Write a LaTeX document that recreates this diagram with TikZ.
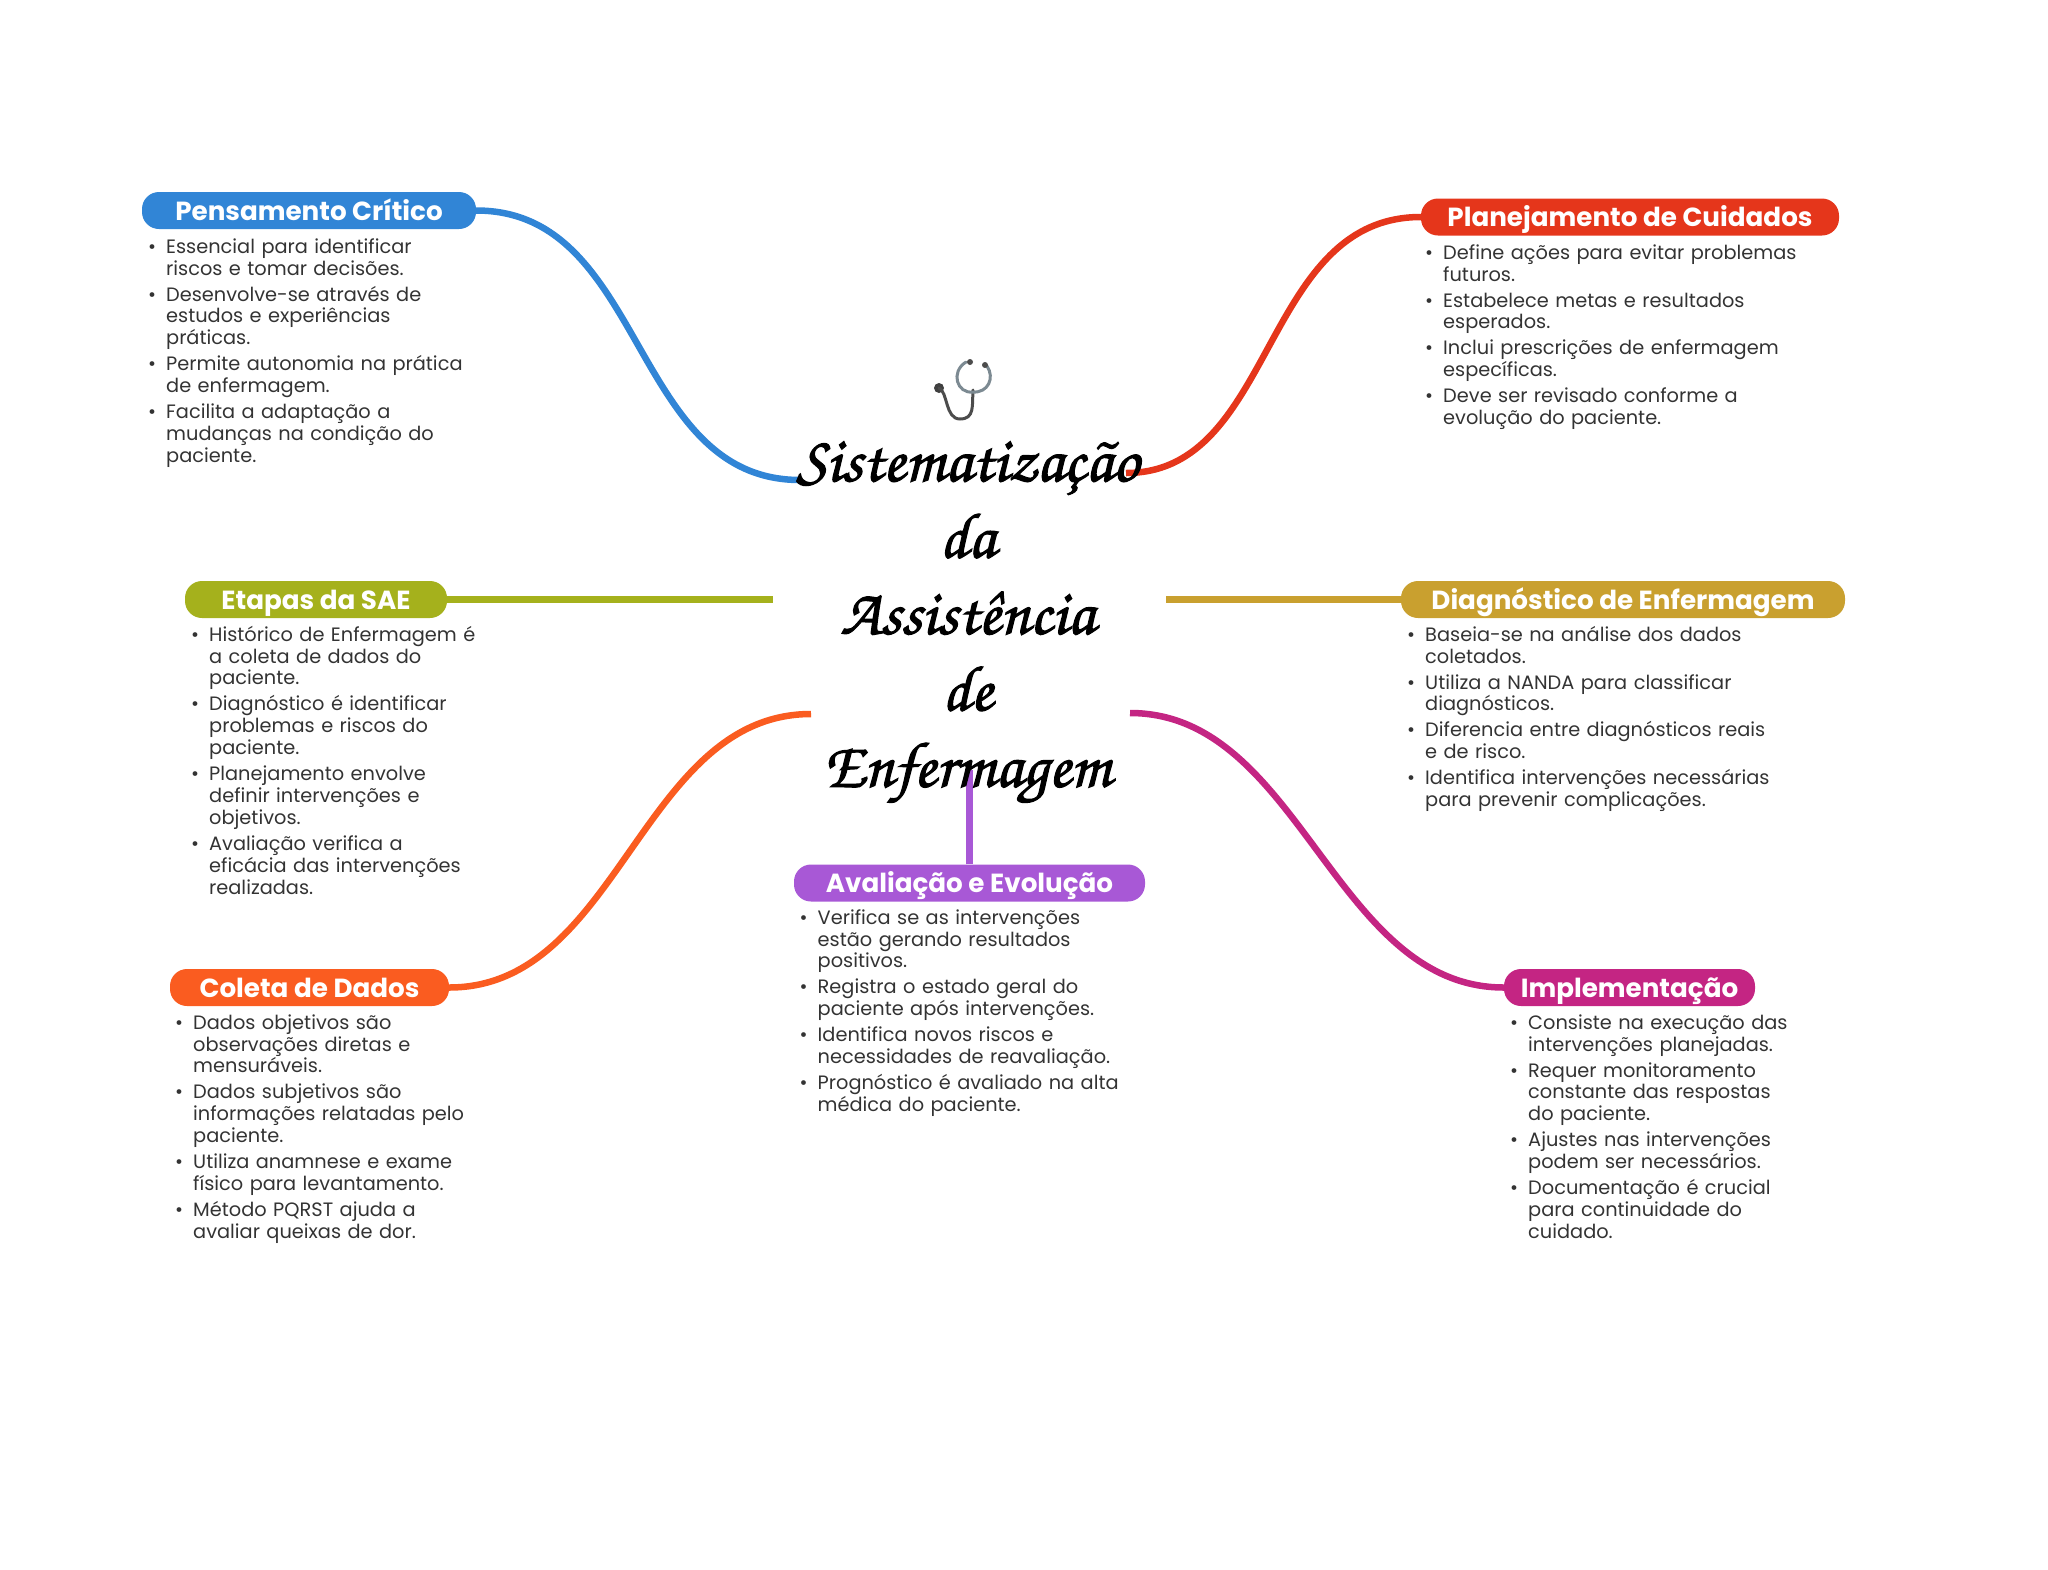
\documentclass[tikz,border=0pt]{standalone}
\usepackage{fontspec}
\usepackage[T1,TU]{fontenc}
\setmainfont{Poppins}
\usepackage{tikz}
\usepackage{xcolor}
\definecolor{critico}{HTML}{3185D6}
\definecolor{cuidados}{HTML}{E5361B}
\definecolor{etapas}{HTML}{A5B11C}
\definecolor{diagnostico}{HTML}{C9A02F}
\definecolor{coleta}{HTML}{FA5C20}
\definecolor{evolucao}{HTML}{A858D6}
\definecolor{implementacao}{HTML}{C42583}
\definecolor{bodytext}{HTML}{333333}
\newenvironment{topics}{\begin{list}{\textbullet}{%
    \setlength{\topsep}{0pt}\setlength{\partopsep}{0pt}\setlength{\parsep}{0pt}%
    \setlength{\itemsep}{4.1pt}\setlength{\leftmargin}{0pt}\setlength{\labelsep}{10pt}%
    \setlength{\labelwidth}{8pt}}}{\end{list}}
\tikzset{
    branch-pill/.style = {fill=#1, text=white, rectangle, rounded corners=17pt, minimum height=37pt, inner sep=0pt, text height=22pt, text depth=3pt, font=\fontsize{26.2}{30}\selectfont\bfseries},
    topic-list/.style = {anchor=north west, inner sep=0pt, text width=420pt, text=bodytext, align=left, font=\fontsize{19.35}{21.9}\selectfont},
    branch-line/.style = {draw=#1, line width=6.5pt},
    title-text/.style = {inner sep=0pt, align=center, text=black, font=\fontencoding{T1}\fontfamily{pzc}\fontseries{mb}\fontshape{it}\fontsize{64.5}{76.4}\selectfont},
}

\begin{document}
\begin{tikzpicture}[x=1pt, y=-1pt]
\useasboundingbox (0,0) rectangle (2048,1569);

% branches
\node[branch-pill=critico, minimum width=334pt] (critico) at (309,210.5) {Pensamento Crítico};
\node[branch-pill=cuidados, minimum width=418pt] (cuidados) at (1630,217) {Planejamento de Cuidados};
\node[branch-pill=etapas, minimum width=262pt] (etapas) at (316,599.5) {Etapas da SAE};
\node[branch-pill=diagnostico, minimum width=444pt] (diagnostico) at (1623,599.5) {Diagnóstico de Enfermagem};
\node[branch-pill=coleta, minimum width=279pt] (coleta) at (309.5,987.5) {Coleta de Dados};
\node[branch-pill=evolucao, minimum width=351pt] (evolucao) at (969.5,883) {Avaliação e Evolução};
\node[branch-pill=implementacao, minimum width=251pt] (implementacao) at (1629.5,987.5) {Implementação};

% free ends at the centre
\coordinate (critico-end) at (800,480);
\coordinate (cuidados-end) at (1126,473);
\coordinate (etapas-end) at (773,599.5);
\coordinate (diagnostico-end) at (1166,599.5);
\coordinate (coleta-end) at (811,714);
\coordinate (evolucao-end) at (969.5,770);
\coordinate (implementacao-end) at (1130,713);

\draw[branch-line=critico] (critico.east) .. controls +(170,0) and +(-170,0) .. (critico-end);
\draw[branch-line=cuidados] (cuidados.west) .. controls +(-160,0) and +(150,0) .. (cuidados-end);
\draw[branch-line=etapas] (etapas.east) -- (etapas-end);
\draw[branch-line=diagnostico] (diagnostico.west) -- (diagnostico-end);
\draw[branch-line=coleta] (coleta.east) .. controls +(170,0) and +(-170,0) .. (coleta-end);
\draw[branch-line=evolucao] (evolucao.north) -- (evolucao-end);
\draw[branch-line=implementacao] (implementacao.west) .. controls +(-170,0) and +(170,0) .. (implementacao-end);

% stethoscope
\fill[black!75] (939,388) circle (5pt);
\draw[black!70, line width=3pt, line cap=round] (939,388) .. controls (948,392) and (945,419) .. (960,419) .. controls (975,419) and (972,405) .. (973,390);
\draw[black!45!cyan!30!gray, line width=3pt, line cap=round] (966,362) .. controls (950,372) and (957,394) .. (973,392) .. controls (988,393) and (995,378) .. (987,366);
\fill[black!70] (970,362) circle (3pt) (985,365) circle (3pt);

% title
\node[title-text] (titulo) at (967.5,624) {\special{pdf:code 2 Tr 1.1 w}Sistematização\\da\\Assistência\\de\\Enfermagem\special{pdf:code 0 Tr}};

% texts
\node[topic-list] (critico-text) at (166,231) {\begin{topics}
\item Essencial para identificar\\riscos e tomar decisões.
\item Desenvolve-se através de\\estudos e experiências\\práticas.
\item Permite autonomia na prática\\de enfermagem.
\item Facilita a adaptação a\\mudanças na condição do\\paciente.
\end{topics}};
\node[topic-list] (cuidados-text) at (1443,237) {\begin{topics}
\item Define ações para evitar problemas\\futuros.
\item Estabelece metas e resultados\\esperados.
\item Inclui prescrições de enfermagem\\específicas.
\item Deve ser revisado conforme a\\evolução do paciente.
\end{topics}};
\node[topic-list] (etapas-text) at (209,619) {\begin{topics}
\item Histórico de Enfermagem é\\a coleta de dados do\\paciente.
\item Diagnóstico é identificar\\problemas e riscos do\\paciente.
\item Planejamento envolve\\definir intervenções e\\objetivos.
\item Avaliação verifica a\\eficácia das intervenções\\realizadas.
\end{topics}};
\node[topic-list] (diagnostico-text) at (1425,619) {\begin{topics}
\item Baseia-se na análise dos dados\\coletados.
\item Utiliza a NANDA para classificar\\diagnósticos.
\item Diferencia entre diagnósticos reais\\e de risco.
\item Identifica intervenções necessárias\\para prevenir complicações.
\end{topics}};
\node[topic-list] (coleta-text) at (193,1007) {\begin{topics}
\item Dados objetivos são\\observações diretas e\\mensuráveis.
\item Dados subjetivos são\\informações relatadas pelo\\paciente.
\item Utiliza anamnese e exame\\físico para levantamento.
\item Método PQRST ajuda a\\avaliar queixas de dor.
\end{topics}};
\node[topic-list] (evolucao-text) at (817.5,902) {\begin{topics}
\item Verifica se as intervenções\\estão gerando resultados\\positivos.
\item Registra o estado geral do\\paciente após intervenções.
\item Identifica novos riscos e\\necessidades de reavaliação.
\item Prognóstico é avaliado na alta\\médica do paciente.
\end{topics}};
\node[topic-list] (implementacao-text) at (1528,1007) {\begin{topics}
\item Consiste na execução das\\intervenções planejadas.
\item Requer monitoramento\\constante das respostas\\do paciente.
\item Ajustes nas intervenções\\podem ser necessários.
\item Documentação é crucial\\para continuidade do\\cuidado.
\end{topics}};
\end{tikzpicture}
\end{document}
